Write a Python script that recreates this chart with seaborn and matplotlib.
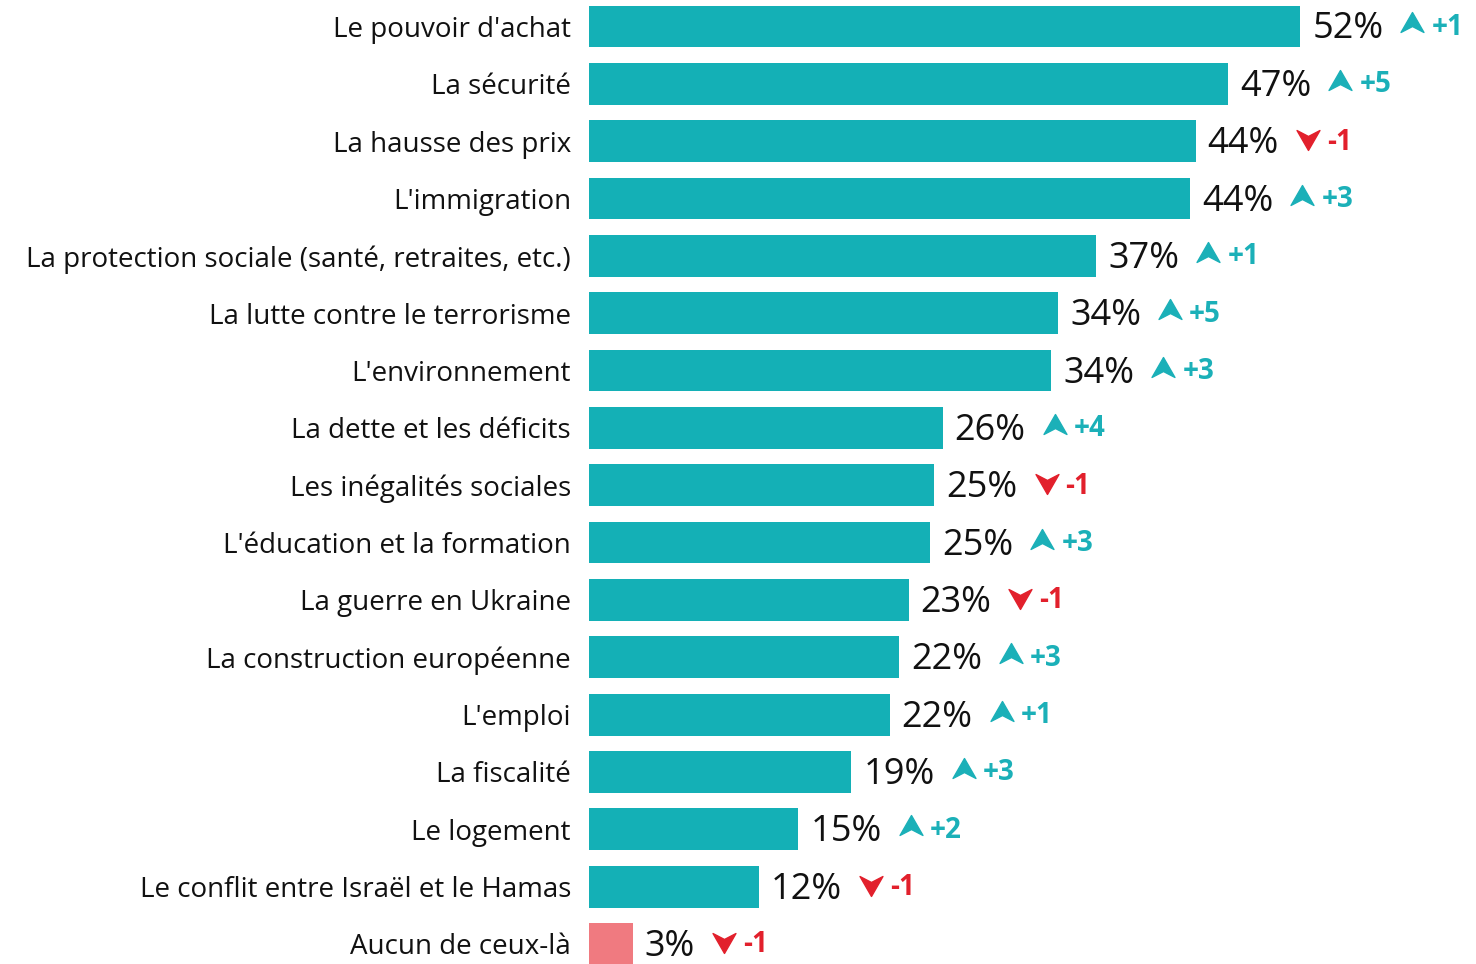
import matplotlib
matplotlib.use("Agg")
import matplotlib.pyplot as plt
import seaborn as sns
import pandas as pd
from matplotlib.path import Path
from matplotlib.transforms import offset_copy

categories = [
    "Le pouvoir d'achat", "La sécurité", "La hausse des prix", "L'immigration",
    "La protection sociale (santé, retraites, etc.)", "La lutte contre le terrorisme",
    "L'environnement", "La dette et les déficits", "Les inégalités sociales",
    "L'éducation et la formation", "La guerre en Ukraine", "La construction européenne",
    "L'emploi", "La fiscalité", "Le logement", "Le conflit entre Israël et le Hamas",
    "Aucun de ceux-là",
]
# bar lengths (unrounded), and the printed rounded labels
values = [52.3, 47.0, 44.6, 44.2, 37.3, 34.5, 34.0, 26.0, 25.4, 25.1,
          23.5, 22.8, 22.1, 19.3, 15.4, 12.5, 3.2]
shown = [52, 47, 44, 44, 37, 34, 34, 26, 25, 25, 23, 22, 22, 19, 15, 12, 3]
changes = [1, 5, -1, 3, 1, 5, 3, 4, -1, 3, -1, 3, 1, 3, 2, -1, -1]

TEAL = "#14b0b6"
PINK = "#f07a80"
RED = "#e2202c"
UPTXT = "#1bb0b8"

df = pd.DataFrame({"cat": categories, "val": values})
df["grp"] = ["main"] * (len(df) - 1) + ["none"]

plt.rcParams["font.family"] = ["Open Sans", "DejaVu Sans"]
fig = plt.figure(figsize=(14.76, 9.64), dpi=100)
ax = fig.add_axes([589 / 1476, 0, 1 - 589 / 1476, 1])

sns.barplot(data=df, y="cat", x="val", hue="grp", palette={"main": TEAL, "none": PINK},
            orient="h", width=0.73, legend=False, ax=ax, saturation=1)

ax.set_xlim(0, (1476 - 589) / 13.6)
ax.set_ylim(16.35, -0.462)
for s in ax.spines.values():
    s.set_visible(False)
ax.set_xticks([])
ax.set_xlabel("")
ax.set_ylabel("")
ax.tick_params(axis="y", length=0, pad=13, labelsize=20, labelcolor="#111111")

up = Path([(0, 0.87), (1, -0.87), (0, -0.35), (-1, -0.87), (0, 0.87)],
          [Path.MOVETO, Path.LINETO, Path.LINETO, Path.LINETO, Path.CLOSEPOLY])
down = Path([(0, -0.87), (1, 0.87), (0, 0.35), (-1, 0.87), (0, -0.87)],
            [Path.MOVETO, Path.LINETO, Path.LINETO, Path.LINETO, Path.CLOSEPOLY])

pct_texts = []
for i, (v, s) in enumerate(zip(values, shown)):
    t = ax.annotate(f"{s}%", xy=(v, i), xytext=(12, -3), textcoords="offset pixels",
                    ha="left", va="center", fontsize=26, color="#111111")
    pct_texts.append(t)

fig.canvas.draw()
r = fig.canvas.get_renderer()
inv = ax.transData.inverted()
for i, (c, t) in enumerate(zip(changes, pct_texts)):
    bb = t.get_window_extent(r)
    x_end = inv.transform((bb.x1, 0))[0]
    col = UPTXT if c > 0 else RED
    dy = 4 if c > 0 else 1
    tr = offset_copy(ax.transData, fig=fig, x=29, y=dy, units="dots")
    ax.plot(x_end, i, marker=up if c > 0 else down, markersize=16.5, color=col,
            transform=tr, clip_on=False)
    ax.annotate(f"{c:+d}", xy=(x_end, i), xytext=(48, -1),
                textcoords="offset pixels", ha="left", va="center",
                fontsize=20, fontweight="bold", color=col)

fig.savefig("out.png", dpi=100)
